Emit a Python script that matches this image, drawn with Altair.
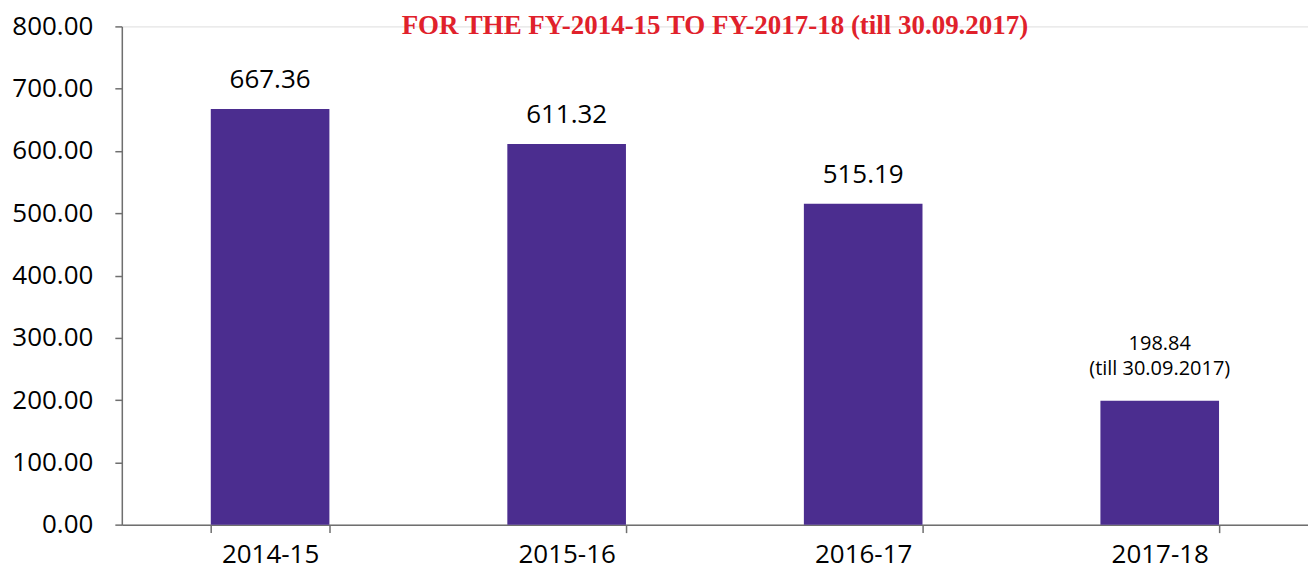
import altair as alt
import pandas as pd

years = ["2014-15", "2015-16", "2016-17", "2017-18"]
values = [667.36, 611.32, 515.19, 198.84]
notes = ["", "", "", "(till 30.09.2017)"]
y_ticks = [0, 100, 200, 300, 400, 500, 600, 700, 800]
title_text = "FOR THE FY-2014-15 TO FY-2017-18 (till 30.09.2017)"

df = pd.DataFrame({"year": years, "value": values, "note": notes})
df["label"] = [
    f"{v:.2f}" + (f"\n{n}" if n else "") for v, n in zip(values, notes)
]
df["partial"] = [bool(n) for n in notes]

AXIS_COLOR = "#6f6f6f"
FONT = "Open Sans"

x_enc = alt.X(
    "year:N",
    sort=years,
    title=None,
    scale=alt.Scale(paddingInner=0.6, paddingOuter=0.3),
    axis=alt.Axis(
        labelAngle=0,
        labelFont=FONT,
        labelFontSize=26,
        labelColor="#000000",
        labelBaseline="alphabetic",
        labelPadding=30,
        tickBand="extent",
        tickSize=8,
        tickColor=AXIS_COLOR,
        tickWidth=1.5,
        domainColor=AXIS_COLOR,
        domainWidth=1.5,
        grid=False,
    ),
)
y_enc = alt.Y(
    "value:Q",
    title=None,
    scale=alt.Scale(domain=[0, 800], nice=False),
    axis=alt.Axis(
        values=y_ticks,
        format=".2f",
        labelFont=FONT,
        labelFontSize=26,
        labelColor="#000000",
        labelPadding=22,
        tickSize=7,
        tickColor=AXIS_COLOR,
        tickWidth=1.5,
        domainColor=AXIS_COLOR,
        domainWidth=1.5,
        grid=False,
    ),
)

base = alt.Chart(df)

bars = base.mark_bar(color="#4b2d8f").encode(x=x_enc, y=y_enc)

labels_big = (
    base.transform_filter("!datum.partial")
    .mark_text(font=FONT, fontSize=26, color="#000000", baseline="alphabetic", dy=-21)
    .encode(x=alt.X("year:N", sort=years), y="value:Q", text="label:N")
)

labels_small = (
    base.transform_filter("datum.partial")
    .mark_text(
        font=FONT,
        fontSize=20,
        color="#000000",
        baseline="alphabetic",
        lineBreak="\n",
        lineHeight=25,
        dy=-51,
    )
    .encode(x=alt.X("year:N", sort=years), y="value:Q", text="label:N")
)

chart = (
    alt.layer(bars, labels_big, labels_small)
    .properties(
        width=1188,
        height=499,
        title=alt.TitleParams(
            text=title_text,
            font="Liberation Serif",
            fontSize=27,
            fontWeight="bold",
            color="#e0212b",
            anchor="middle",
            frame="group",
            baseline="alphabetic",
            offset=0,
            dy=48,
        ),
        autosize=alt.AutoSizeParams(type="none"),
        padding={"left": 114, "top": 18, "right": 0, "bottom": 45},
    )
    .configure_view(stroke="transparent", strokeWidth=0)
    .configure(background="#ffffff")
)

chart.save("out.html", embed_options={"renderer": "svg", "actions": False})
